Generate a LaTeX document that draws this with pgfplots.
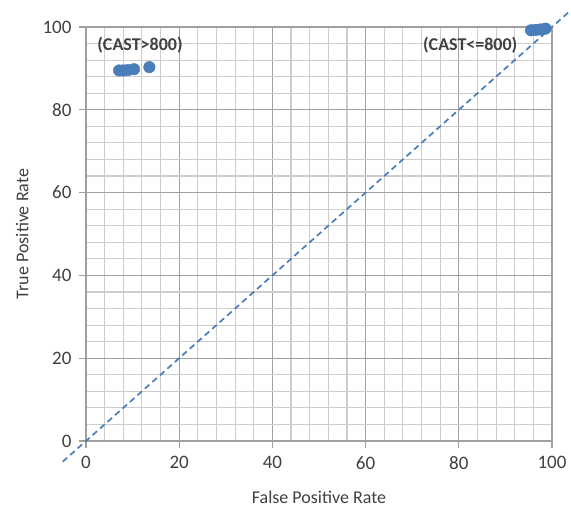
\documentclass[border=0pt]{standalone}
\usepackage{fontspec}
\setmainfont{Carlito}
\usepackage{pgfplots}
\pgfplotsset{compat=1.18}
\definecolor{xlblue}{HTML}{4A7EBB}
\definecolor{majgrid}{HTML}{A0A0A0}
\definecolor{mingrid}{HTML}{CDCDCD}
\definecolor{txt}{HTML}{404040}
\begin{document}
\begin{tikzpicture}[x=1pt,y=1pt]
\useasboundingbox (-86,-67) rectangle (485,441);
\begin{axis}[
  at={(0,0)}, anchor=south west,
  scale only axis, width=466pt, height=414pt,
  xmin=0, xmax=100, ymin=0, ymax=100,
  xtick={0,20,...,100}, ytick={0,20,...,100},
  minor tick num=4,
  grid=both,
  major grid style={majgrid, line width=1.1pt},
  minor grid style={mingrid, line width=1.1pt},
  axis line style={majgrid, line width=1.1pt},
  tick style={majgrid, line width=1.1pt},
  major tick length=7pt, minor tick length=0pt,
  tick align=outside,
  xtick pos=bottom, ytick pos=left,
  /pgf/number format/assume math mode=true,
  tick label style={font=\fontsize{19}{21}\selectfont, text=txt},
  xticklabel style={yshift=-5pt},
  yticklabel style={xshift=-4pt},
  xlabel={False Positive Rate},
  ylabel={True Positive Rate},
  label style={font=\fontsize{18}{20}\selectfont, text=txt},
  xlabel style={at={(axis description cs:0.5,-0.135)}, anchor=center},
  ylabel style={at={(axis description cs:-0.137,0.5)}, anchor=center},
  clip=false,
]
% diagonal reference line
\addplot[xlblue, line width=1.7pt, dash pattern=on 6pt off 4pt] coordinates {(-5,-5) (104,104)};
% operating points
\addplot[only marks, mark=*, mark size=5.8pt, mark options={fill=xlblue, draw=xlblue}] coordinates {
  (7.1,89.5) (8.0,89.5) (9.0,89.6) (10.3,89.8) (13.6,90.3)
};
\addplot[only marks, mark=*, mark size=5.8pt, mark options={fill=xlblue, draw=xlblue}] coordinates {
  (95.5,99.2) (96.5,99.3) (97.5,99.4) (98.6,99.6)
};
\node[anchor=west, font=\bfseries\fontsize{18}{20}\selectfont, text=txt, inner sep=0pt] at (axis cs:2.4,95.6) {(CAST>800)};
\node[anchor=west, font=\bfseries\fontsize{18}{20}\selectfont, text=txt, inner sep=0pt] at (axis cs:72.3,95.6) {(CAST<=800)};
\end{axis}
\end{tikzpicture}
\end{document}
